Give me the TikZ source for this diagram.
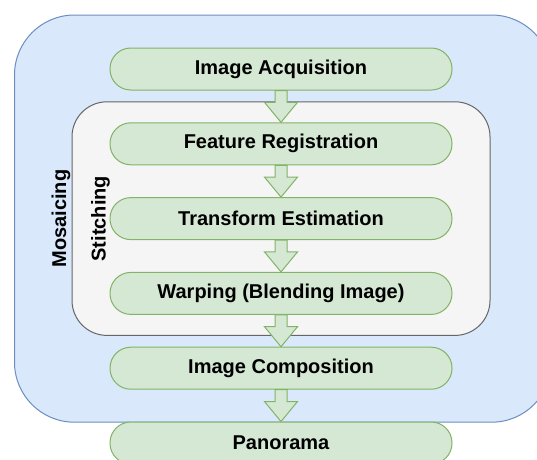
\documentclass[tikz,border=0pt]{standalone}
\usepackage{fontspec}
\setmainfont{Liberation Sans}
\usepackage{xcolor}
\usepackage{tikz}
\usetikzlibrary{positioning,calc,fit,backgrounds}

\definecolor{mosfill}{HTML}{DAE8FC}
\definecolor{mosline}{HTML}{6C8EBF}
\definecolor{stifill}{HTML}{F5F5F5}
\definecolor{stiline}{HTML}{666666}
\definecolor{stepfill}{HTML}{D5E8D4}
\definecolor{stepline}{HTML}{82B366}

% hollow block arrow from one step down to the next
\newcommand\flowarrow[2]{%
  \draw[flow] ($(#1.south)+(-6pt,0)$) -- ($(#2.north)+(-6pt,20pt)$)
    -- ++(-10.5pt,0) -- (#2.north) -- ++(16.5pt,20pt) -- ++(-10.5pt,0)
    |- (#1.south) -- cycle;}

\begin{document}
\begin{tikzpicture}[
  font=\bfseries\fontsize{20}{24}\selectfont,
  node distance=31.8pt,
  stp/.style={draw=stepline, fill=stepfill, line width=1pt,
              rounded corners=20.8pt, minimum width=342pt,
              minimum height=42pt, inner sep=0pt},
  flow/.style={draw=stepline, fill=stepfill, line width=1pt},
  lbl/.style={rotate=90, anchor=base, inner sep=0pt}
]
\useasboundingbox (0,0) rectangle (537pt,-459pt);

\node[stp] (acq) at (281pt,-69pt) {Image Acquisition};
\node[stp, below=of acq] (feat) {Feature Registration};
\node[stp, below=of feat] (trans) {Transform Estimation};
\node[stp, below=of trans] (warp) {Warping (Blending Image)};
\node[stp, below=of warp] (comp) {Image Composition};
\node[stp, below=of comp] (pano) {Panorama};

% group boxes
\begin{scope}[on background layer]
  \node[draw=mosline, fill=mosfill, line width=1pt, rounded corners=60pt,
        fit=(acq)(comp), inner xsep=97pt, inner ysep=32.5pt, xshift=2pt]
        (mosaic) {};
  \node[draw=stiline, fill=stifill, line width=1pt, rounded corners=35pt,
        fit=(feat)(warp), inner xsep=37.5pt, inner ysep=20.5pt] (stitch) {};
\end{scope}

\node[lbl] (moslbl) at ([xshift=52pt]mosaic.west) {Mosaicing};
\node[lbl] (stilbl) at ([xshift=34pt]stitch.west) {Stitching};

\flowarrow{acq}{feat}
\flowarrow{feat}{trans}
\flowarrow{trans}{warp}
\flowarrow{warp}{comp}
\flowarrow{comp}{pano}
\end{tikzpicture}
\end{document}
